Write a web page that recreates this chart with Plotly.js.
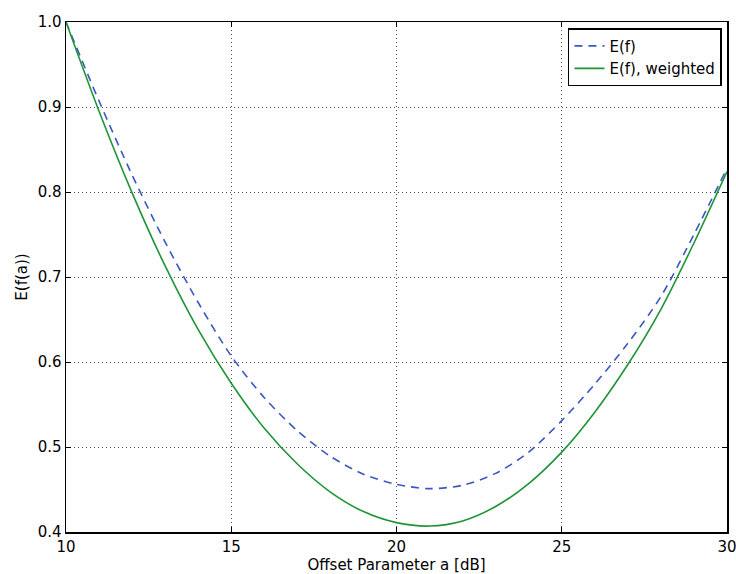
<!DOCTYPE html>
<html>
<head>
<meta charset="utf-8">
<script src="https://cdn.plot.ly/plotly-3.0.1.min.js"></script>
<style>
  html, body { margin: 0; padding: 0; background: #fff; }
  #chart { width: 736px; height: 574px; }
</style>
</head>
<body>
<div id="chart"></div>
<script>
// Offset parameter a [dB]
const offsetA = [10, 11, 12, 13, 14, 15, 16, 17, 18, 19, 20, 21, 22, 23, 24, 25, 26, 27, 28, 29, 30];
// E(f)
const eF = [1.000, 0.907, 0.820, 0.741, 0.670, 0.607, 0.558, 0.519, 0.489, 0.468, 0.456, 0.451, 0.455, 0.469, 0.494, 0.531, 0.574, 0.622, 0.677, 0.750, 0.828];
// E(f), weighted
const eFWeighted = [1.000, 0.895, 0.799, 0.713, 0.638, 0.575, 0.522, 0.480, 0.447, 0.424, 0.411, 0.407, 0.413, 0.430, 0.457, 0.494, 0.541, 0.597, 0.662, 0.740, 0.824];

const seriesNames = ["E(f)", "E(f), weighted"];
const xTicks = [10, 15, 20, 25, 30];
const yTicks = [0.4, 0.5, 0.6, 0.7, 0.8, 0.9, 1.0];
const yTickText = ["0.4", "0.5", "0.6", "0.7", "0.8", "0.9", "1.0"];

const font = "DejaVu Sans, Liberation Sans, sans-serif";

const traces = [
  {
    x: offsetA, y: eF, name: seriesNames[0], type: "scatter", mode: "lines",
    line: { color: "#3b57c2", width: 1.6, dash: "8px,6px", shape: "spline", smoothing: 0.8 }
  },
  {
    x: offsetA, y: eFWeighted, name: seriesNames[1], type: "scatter", mode: "lines",
    line: { color: "#1e9437", width: 1.6, shape: "spline", smoothing: 0.8 }
  }
];

const axisCommon = {
  showline: true, linecolor: "#000", linewidth: 1.5, mirror: "ticks",
  ticks: "inside", ticklen: 5, tickwidth: 1, tickcolor: "#000",
  showgrid: true, gridcolor: "rgba(0,0,0,0.7)", gridwidth: 1, griddash: "1px,3px",
  zeroline: false, ticklabeloverflow: "allow",
  tickfont: { family: font, size: 15, color: "#000" }
};

const layout = {
  width: 736, height: 574,
  margin: { l: 66, r: 9, t: 22, b: 42 },
  paper_bgcolor: "#fff", plot_bgcolor: "#fff",
  font: { family: font, color: "#000" },
  showlegend: true,
  legend: {
    x: 0.9924, y: 0.988, xanchor: "right", yanchor: "top",
    bgcolor: "#fff", bordercolor: "#000", borderwidth: 1.5,
    font: { family: font, size: 15, color: "#000" },
    tracegroupgap: 0, itemwidth: 30
  },
  xaxis: Object.assign({}, axisCommon, {
    range: [10, 30], tickvals: xTicks, ticktext: xTicks.map(String),
    title: { text: "Offset Parameter a [dB]", font: { family: font, size: 15, color: "#000" }, standoff: 2 }
  }),
  yaxis: Object.assign({}, axisCommon, {
    range: [0.4, 1.0], tickvals: yTicks, ticktext: yTickText,
    title: { text: "E(f(a))", font: { family: font, size: 15, color: "#000" }, standoff: 6 }
  })
};

Plotly.newPlot("chart", traces, layout, { displayModeBar: false, staticPlot: true });
</script>
</body>
</html>
